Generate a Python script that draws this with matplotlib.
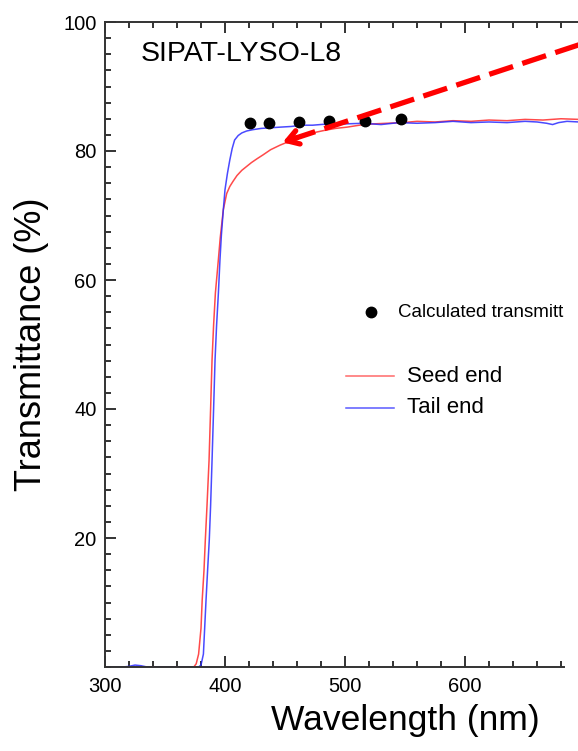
import matplotlib
matplotlib.use("Agg")
import matplotlib.pyplot as plt
import numpy as np

plt.rcParams['font.family'] = ['Liberation Sans', 'DejaVu Sans']
plt.rcParams['lines.scale_dashes'] = False

# seed end transmittance
wl_seed = [300, 320, 340, 360, 370, 374, 376, 378, 380, 381, 382.5, 383.6, 385,
           386.7, 388, 389.2, 390.5, 392, 394.4, 396, 398.6, 401.4, 404, 406.7,
           410, 414, 418, 422, 426.7, 431.7, 438, 445.8, 455, 464, 473, 483, 492,
           501.7, 512, 523, 535, 548, 560, 575, 590, 605, 620, 635, 650, 665, 680,
           695, 710]
seed = [0, 0, 0, 0, 0, 0, 0.5, 2, 6, 10.4, 15, 19.7, 25,
        32, 40, 47.6, 53, 58, 63, 66.5, 70.9, 73.4, 74.5, 75.3,
        76.2, 77, 77.6, 78.2, 78.8, 79.4, 80.2, 80.9, 81.6, 82.2, 82.8, 83.2, 83.5,
        83.7, 84.0, 84.2, 84.3, 84.4, 84.6, 84.5, 84.7, 84.6, 84.8, 84.7, 84.9, 84.8, 85.0,
        84.9, 85.0]

# tail end transmittance
wl_tail = [300, 315, 320, 325, 330, 335, 350, 370, 378, 380, 382, 384.2, 385.5,
           386.9, 388, 389.2, 390.5, 391.7, 393, 394.5, 395.8, 397, 398.6, 400, 402,
           404, 406, 408, 411, 414, 418, 423, 430, 438, 446, 455, 464, 473, 486,
           500, 515, 530, 545, 560, 575, 590, 605, 620, 635, 650, 660, 668, 673,
           678, 685, 695, 710]
tail = [0, 0, 0.1, 0.3, 0.2, 0, 0, 0, 0, 0.3, 2, 10.4, 15,
        19.7, 25, 32, 40, 47.6, 53, 58, 63.1, 67, 70.9, 74, 76.5,
        78.6, 80.4, 81.7, 82.4, 82.8, 83.1, 83.3, 83.5, 83.6, 83.7, 83.8, 84.0, 84.0, 84.2,
        84.2, 84.3, 84.1, 84.4, 84.3, 84.4, 84.6, 84.4, 84.5, 84.4, 84.6, 84.5, 84.3, 84.1,
        84.4, 84.6, 84.5, 84.6]

# calculated transmittance points
wl_calc = [420.5, 436.5, 461.5, 487, 517, 547]
calc = [84.3, 84.3, 84.5, 84.7, 84.7, 84.9]

# arrow: tail and tip in data units
arrow_tail = (720, 98.0)
arrow_tip = (445.8, 81.2)

fig = plt.figure(figsize=(5.78, 7.51), dpi=100)
ax = fig.add_axes([105 / 578, 84 / 751, 600 / 578, 645 / 751])

ax.plot(wl_seed, seed, color='#ff2a2a', lw=1.1, alpha=0.85)
ax.plot(wl_tail, tail, color='#2a2aff', lw=1.1, alpha=0.85)
ax.plot(wl_calc, calc, 'o', color='black', ms=7.5, zorder=5)

# dashed arrow
x0, y0 = arrow_tail
x1, y1 = arrow_tip
f = 0.06
ax.plot([x0, x1 + (x0 - x1) * 0.03], [y0, y1 + (y0 - y1) * 0.03],
        color='red', lw=3.8, linestyle=(0, (18, 7)), solid_capstyle='butt', zorder=6)
ax.annotate('', xy=(x1, y1), xytext=(x1 + (x0 - x1) * f, y1 + (y0 - y1) * f),
            arrowprops=dict(arrowstyle='->,head_length=0.8,head_width=0.5',
                            color='red', lw=3.8), zorder=6)

ax.set_xlim(300, 800)
ax.set_ylim(0, 100)
ax.set_xticks([300, 400, 500, 600])
ax.set_xticks(np.arange(300, 801, 20), minor=True)
ax.set_yticks([20, 40, 60, 80, 100])
ax.set_yticks(np.arange(0, 100.1, 2.5), minor=True)
ax.tick_params(which='both', direction='in', top=True, right=False,
               width=1.4, color='#333333', labelsize=14.5)
ax.tick_params(which='major', length=8)
ax.tick_params(which='minor', length=4.5)
ax.tick_params(axis='x', pad=7)
ax.tick_params(axis='y', pad=6)
for s in ['left', 'bottom', 'top']:
    ax.spines[s].set_linewidth(1.4)
    ax.spines[s].set_color('#333333')
ax.spines['right'].set_visible(False)
ax.spines['bottom'].set_bounds(300, 682.5)

ax.set_xlabel('Wavelength (nm)', fontsize=25.5, labelpad=6)
ax.set_ylabel('Transmittance (%)', fontsize=26, labelpad=10)

ax.text(330, 95, 'SIPAT-LYSO-L8', fontsize=20.5, va='center', ha='left')

# legend
ax.plot([0.443], [0.550], 'o', color='black', ms=7.5, transform=ax.transAxes)
ax.text(0.488, 0.550, 'Calculated transmitt', fontsize=13.5, va='center',
        transform=ax.transAxes)
ax.plot([0.402, 0.482], [0.451, 0.451], color='#ff6a6a', lw=1.1, transform=ax.transAxes)
ax.text(0.503, 0.451, 'Seed end', fontsize=16, va='center', transform=ax.transAxes)
ax.plot([0.402, 0.482], [0.4016, 0.4016], color='#5a5aff', lw=1.1, transform=ax.transAxes)
ax.text(0.503, 0.4016, 'Tail end', fontsize=16, va='center', transform=ax.transAxes)

fig.savefig('out.png', dpi=100)
